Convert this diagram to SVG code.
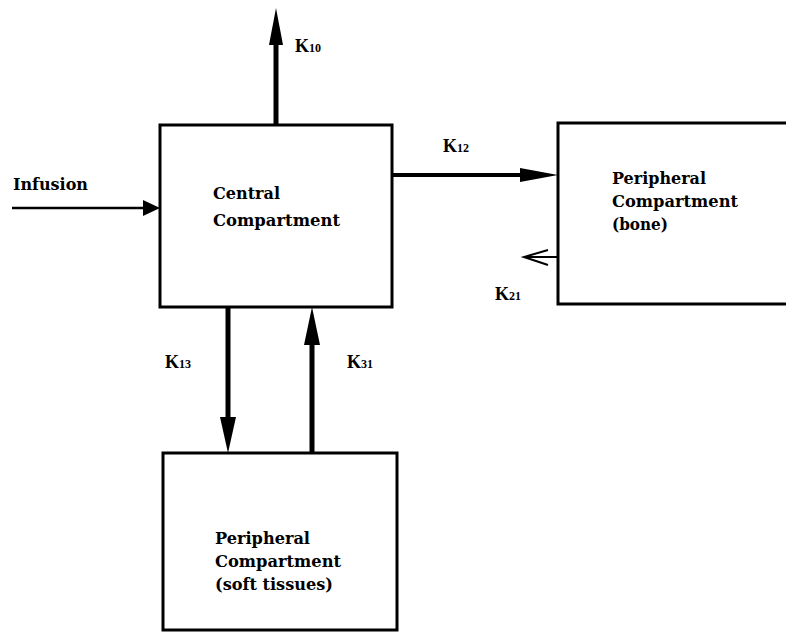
<svg xmlns="http://www.w3.org/2000/svg" width="786" height="634" viewBox="0 0 786 634">
<style>
.box{fill:none;stroke:#000;stroke-width:3}
.t{font-family:"DejaVu Serif","Liberation Serif",serif;font-weight:bold;font-size:16px;fill:#000}
.k{font-family:"Liberation Serif",serif;font-weight:bold;font-size:18px;fill:#000}
.s{font-size:12px}
.ln{stroke:#000;fill:none}
.hd{fill:#000}
</style>
<rect width="786" height="634" fill="#fff"/>
<g id="central">
<rect class="box" x="160" y="125" width="232" height="182"/>
<text class="t" x="213" y="199" textLength="67" lengthAdjust="spacingAndGlyphs">Central</text>
<text class="t" x="213" y="226" textLength="127" lengthAdjust="spacingAndGlyphs">Compartment</text>
</g>
<g id="bone">
<rect class="box" x="558" y="123" width="240" height="181"/>
<text class="t" x="612" y="184" textLength="94" lengthAdjust="spacingAndGlyphs">Peripheral</text>
<text class="t" x="612" y="207" textLength="126" lengthAdjust="spacingAndGlyphs">Compartment</text>
<text class="t" x="612" y="230" textLength="56" lengthAdjust="spacingAndGlyphs">(bone)</text>
</g>
<g id="soft">
<rect class="box" x="163" y="453" width="234" height="177"/>
<text class="t" x="215" y="544" textLength="95" lengthAdjust="spacingAndGlyphs">Peripheral</text>
<text class="t" x="215" y="567" textLength="126" lengthAdjust="spacingAndGlyphs">Compartment</text>
<text class="t" x="215" y="590" textLength="118" lengthAdjust="spacingAndGlyphs">(soft tissues)</text>
</g>
<g id="connectors">
<line class="ln" x1="12" y1="208" x2="146" y2="208" stroke-width="2.5"/>
<polygon class="hd" points="160,208 143,200 143,216"/>
<text class="t" x="13" y="190" textLength="75" lengthAdjust="spacingAndGlyphs">Infusion</text>
<line class="ln" x1="276" y1="125" x2="276" y2="40" stroke-width="5"/>
<polygon class="hd" points="276,8 269,45 283,45"/>
<text class="k" x="295" y="52">K<tspan class="s">10</tspan></text>
<line class="ln" x1="392" y1="175" x2="525" y2="175" stroke-width="4"/>
<polygon class="hd" points="558,175 520,168 520,182"/>
<text class="k" x="443" y="152">K<tspan class="s">12</tspan></text>
<line class="ln" x1="524" y1="257" x2="558" y2="257" stroke-width="2"/>
<polyline class="ln" points="548,250 524,257 548,265" stroke-width="2"/>
<text class="k" x="495" y="300">K<tspan class="s">21</tspan></text>
<line class="ln" x1="228" y1="307" x2="228" y2="420" stroke-width="5"/>
<polygon class="hd" points="228,453 220,417 236,417"/>
<text class="k" x="165" y="368">K<tspan class="s">13</tspan></text>
<line class="ln" x1="312" y1="453" x2="312" y2="340" stroke-width="5"/>
<polygon class="hd" points="312,307 304,345 320,345"/>
<text class="k" x="347" y="368">K<tspan class="s">31</tspan></text>
</g>
</svg>
